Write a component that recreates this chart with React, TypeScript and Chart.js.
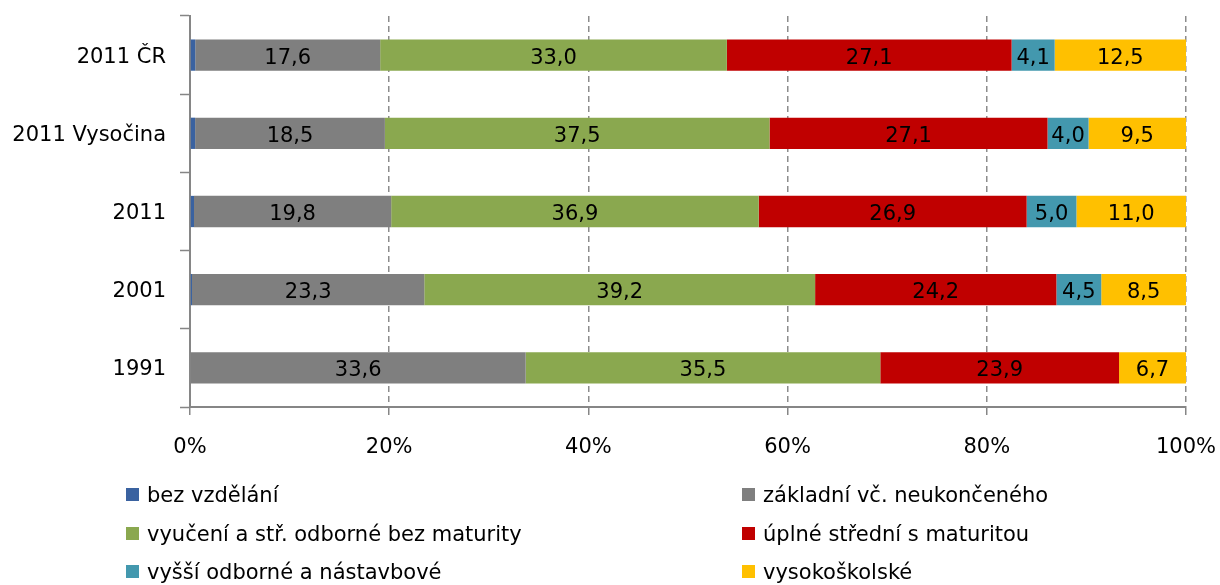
import React, { useEffect, useRef } from "react";
import { Chart, registerables } from "chart.js";

Chart.register(...registerables);

const categories = ["2011 ČR", "2011 Vysočina", "2011", "2001", "1991"];

const bezVzdelani = [0.5, 0.5, 0.4, 0.2, 0.0];
const zakladni = [17.6, 18.5, 19.8, 23.3, 33.6];
const vyuceni = [33.0, 37.5, 36.9, 39.2, 35.5];
const uplneStredni = [27.1, 27.1, 26.9, 24.2, 23.9];
const vyssiOdborne = [4.1, 4.0, 5.0, 4.5, 0.0];
const vysokoskolske = [12.5, 9.5, 11.0, 8.5, 6.7];

const seriesNames = [
  "bez vzdělání",
  "základní vč. neukončeného",
  "vyučení a stř. odborné bez maturity",
  "úplné střední s maturitou",
  "vyšší odborné a nástavbové",
  "vysokoškolské",
];
const seriesValues = [bezVzdelani, zakladni, vyuceni, uplneStredni, vyssiOdborne, vysokoskolske];
const seriesColors = ["#3A62A0", "#7F7F7F", "#8AA84F", "#C00000", "#4398AE", "#FFC000"];
const showLabel = [false, true, true, true, true, true];

const xTickValues = [0, 20, 40, 60, 80, 100];

const FONT = "'DejaVu Sans', sans-serif";

const fmt = (v: number) => v.toFixed(1).replace(".", ",");

const totals = categories.map((_, i) => seriesValues.reduce((s, arr) => s + arr[i], 0));

const valueLabelPlugin = {
  id: "valueLabels",
  afterDatasetsDraw(chart: any) {
    const ctx = chart.ctx;
    ctx.save();
    ctx.font = `21px ${FONT}`;
    ctx.fillStyle = "#000";
    ctx.textAlign = "center";
    ctx.textBaseline = "middle";
    chart.data.datasets.forEach((ds: any, di: number) => {
      if (!showLabel[di]) return;
      const meta = chart.getDatasetMeta(di);
      meta.data.forEach((bar: any, i: number) => {
        const raw = seriesValues[di][i];
        if (!raw) return;
        const cx = (bar.x + bar.base) / 2;
        ctx.fillText(fmt(raw), cx, bar.y + 3);
      });
    });
    ctx.restore();
  },
};

const legendCols = [126, 742];
const legendRows = [496, 535, 573];

const legendPlugin = {
  id: "customLegend",
  afterDraw(chart: any) {
    const ctx = chart.ctx;
    ctx.save();
    ctx.font = `21px ${FONT}`;
    ctx.textBaseline = "middle";
    ctx.textAlign = "left";
    seriesNames.forEach((name, k) => {
      const col = k % 2;
      const row = Math.floor(k / 2);
      const x = legendCols[col];
      const y = legendRows[row];
      ctx.fillStyle = seriesColors[k];
      ctx.fillRect(x, y - 8, 13, 13);
      ctx.fillStyle = "#000";
      ctx.fillText(name, x + 21, y + 1);
    });
    ctx.restore();
  },
};

export default function App() {
  const canvasRef = useRef<HTMLCanvasElement | null>(null);

  useEffect(() => {
    document.body.style.margin = "0";
    const canvas = canvasRef.current;
    if (!canvas) return;
    const chart = new Chart(canvas, {
      type: "bar",
      data: {
        labels: categories,
        datasets: seriesNames.map((name, k) => ({
          label: name,
          data: seriesValues[k].map((v, i) => (v / totals[i]) * 100),
          backgroundColor: seriesColors[k],
          borderWidth: 0,
          barPercentage: 0.4,
          categoryPercentage: 1,
        })),
      },
      options: {
        indexAxis: "y",
        animation: false,
        responsive: false,
        devicePixelRatio: 1,
        layout: { padding: { top: 16, right: 34, bottom: 128, left: 0 } },
        plugins: {
          legend: { display: false },
          tooltip: { enabled: false },
        },
        scales: {
          x: {
            stacked: true,
            min: 0,
            max: 100,
            afterBuildTicks: (scale: any) => {
              scale.ticks = xTickValues.map((v) => ({ value: v }));
            },
            afterFit: (scale: any) => {
              scale.height = 50;
              scale.paddingLeft = 0;
              scale.paddingRight = 0;
            },
            ticks: {
              callback: (v: any) => `${v}%`,
              color: "#000",
              font: { family: FONT, size: 21 },
              padding: 20,
              maxRotation: 0,
            },
            grid: {
              color: (c: any) => (c.tick && c.tick.value === 0 ? "rgba(0,0,0,0)" : "#8C8C8C"),
              lineWidth: 1.5,
              tickColor: "#868686",
              tickLength: 8,
              tickWidth: 1.5,
            },
            border: { color: "#868686", width: 2, dash: [6, 4] },
          },
          y: {
            stacked: true,
            afterFit: (scale: any) => {
              scale.width = 190;
              scale.paddingTop = 0;
              scale.paddingBottom = 0;
            },
            ticks: {
              color: "#000",
              font: { family: FONT, size: 21 },
              padding: 14,
              labelOffset: 2,
            },
            grid: {
              offset: true,
              drawOnChartArea: false,
              tickColor: "#868686",
              tickLength: 10,
              tickWidth: 1.5,
            },
            border: { color: "#868686", width: 2 },
          },
        },
      },
      plugins: [valueLabelPlugin, legendPlugin],
    } as any);
    return () => chart.destroy();
  }, []);

  return (
    <div style={{ width: 1220, height: 585 }}>
      <canvas ref={canvasRef} width={1220} height={585} />
    </div>
  );
}
